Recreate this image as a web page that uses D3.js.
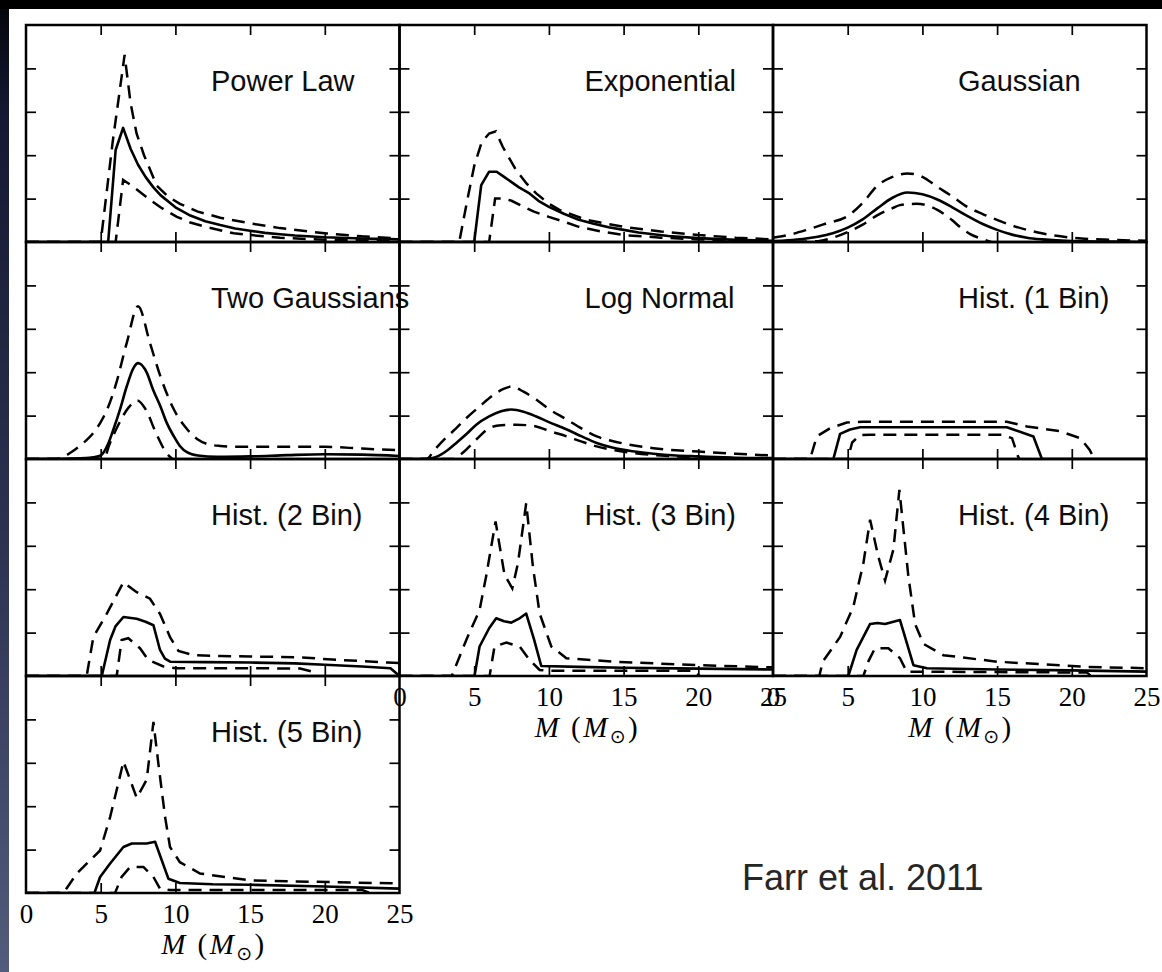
<!DOCTYPE html>
<html>
<head>
<meta charset="utf-8">
<script src="https://cdn.jsdelivr.net/npm/d3@7"></script>
<style>
  html, body { margin: 0; padding: 0; background: #000; }
  svg { display: block; }
</style>
</head>
<body>
<svg id="chart" width="1162" height="972"></svg>
<script>
// ---------------- DATA ----------------
const titles = ["Power Law", "Exponential", "Gaussian", "Two Gaussians", "Log Normal",
  "Hist. (1 Bin)", "Hist. (2 Bin)", "Hist. (3 Bin)", "Hist. (4 Bin)", "Hist. (5 Bin)"];
const xTicks = [5, 10, 15, 20];
const xTickLabels = [0, 5, 10, 15, 20, 25];
const yTicks = [1, 2, 3, 4];
const xDomain = [0, 25];
const yDomain = [0, 5];
const axisLabel = "M";
const annotation = "Farr et al. 2011";

// [mass, density] pairs — median (solid), lower / upper bounds (dashed)
const powerLawMed = [[0,0],[5.5,0],[6.0,2.12],[6.5,2.63],[7,2.15],[7.5,1.78],[8,1.5],[8.5,1.27],[9,1.08],[10,0.8],[11,0.61],[12,0.48],[13,0.39],[14,0.31],[15,0.26],[16,0.21],[17,0.18],[18,0.15],[20,0.11],[22.5,0.08],[25,0.06]];
const powerLawLo  = [[0,0],[6.0,0],[6.5,1.43],[7.2,1.27],[8.3,0.97],[9,0.8],[10.1,0.58],[11,0.45],[12,0.35],[13.9,0.2],[15,0.16],[17,0.1],[20,0.05],[25,0.02]];
const powerLawHi  = [[0,0],[5.0,0],[5.8,2.3],[6.6,4.31],[7.0,3.2],[7.4,2.5],[7.9,2.0],[8.75,1.3],[9.5,1.05],[10.3,0.88],[11.5,0.7],[13,0.56],[15,0.43],[17,0.32],[20,0.2],[22.5,0.13],[25,0.08]];

const expMed = [[0,0],[5.0,0],[5.47,1.31],[6.0,1.62],[6.5,1.62],[7,1.5],[7.5,1.38],[8,1.26],[8.7,1.12],[9.3,0.95],[10,0.81],[11,0.65],[12,0.51],[13,0.42],[14,0.34],[15,0.28],[16,0.22],[17,0.18],[18,0.14],[20,0.09],[22.5,0.05],[25,0.03]];
const expLo  = [[0,0],[6.0,0],[6.4,1.0],[7.0,1.0],[7.5,0.95],[8.3,0.81],[9,0.7],[10,0.58],[11,0.47],[12,0.35],[13.5,0.24],[15,0.16],[17.5,0.1],[20,0.06],[25,0.02]];
const expHi  = [[0,0],[4.0,0],[4.5,0.9],[5.0,1.75],[5.5,2.3],[6.0,2.5],[6.45,2.55],[6.9,2.2],[7.8,1.66],[8.5,1.35],[9.15,1.12],[10,0.88],[10.7,0.74],[12.5,0.51],[15,0.35],[17.5,0.24],[20,0.16],[22.5,0.1],[25,0.06]];

const gaussMed = [[0,0.02],[1,0.04],[2,0.07],[3,0.12],[4,0.2],[5,0.33],[6,0.52],[7,0.78],[8,1.02],[9,1.14],[10,1.1],[11,0.98],[12,0.8],[13,0.6],[14,0.42],[15,0.28],[16,0.17],[17,0.1],[18,0.06],[20,0.02],[22.5,0.01],[25,0]];
const gaussLo  = [[0,0],[3,0.02],[4,0.1],[5,0.23],[6,0.4],[7,0.62],[8,0.78],[8.5,0.85],[9.6,0.88],[10.5,0.82],[11,0.74],[12,0.5],[12.5,0.35],[13.2,0.18],[13.9,0.08],[14.6,0]];
const gaussHi  = [[0,0.1],[1,0.16],[2.26,0.28],[3.5,0.42],[5,0.6],[6,0.9],[7,1.3],[8,1.5],[9,1.58],[10,1.5],[11,1.27],[12,1.05],[13,0.81],[14,0.65],[15,0.51],[16,0.38],[17,0.28],[18,0.2],[20,0.1],[22.5,0.05],[25,0.03]];

const twoGaussMed = [[0,0],[3,0.01],[4,0.02],[4.5,0.04],[5,0.08],[5.5,0.35],[5.85,0.68],[6.3,1.15],[6.74,1.67],[7.2,2.1],[7.5,2.21],[8.1,1.98],[8.5,1.6],[9,1.21],[9.4,0.85],[9.9,0.52],[10.3,0.3],[10.8,0.15],[11.5,0.08],[12.8,0.05],[15,0.06],[17.5,0.09],[20,0.11],[22.5,0.1],[25,0.07]];
const twoGaussLo  = [[0,0],[5.2,0],[5.6,0.35],[6.2,0.8],[6.9,1.2],[7.45,1.35],[8.0,1.15],[8.7,0.6],[9.4,0.14],[9.8,0]];
const twoGaussHi  = [[0,0],[2.06,0],[3,0.15],[3.84,0.37],[4.5,0.6],[5,0.85],[5.5,1.2],[6,1.7],[6.74,2.67],[7.5,3.52],[8.3,2.67],[9,1.9],[9.9,1.14],[10.8,0.68],[11.5,0.45],[12.1,0.35],[13,0.3],[14.2,0.28],[17,0.28],[20,0.28],[22.5,0.24],[25,0.2]];

const logNormMed = [[0,0],[1.5,0],[2.2,0.02],[3,0.15],[3.8,0.37],[4.5,0.58],[5.14,0.79],[6,0.98],[6.8,1.1],[7.5,1.14],[8.3,1.09],[9.15,0.98],[10,0.85],[11.2,0.68],[12.2,0.52],[13.2,0.37],[14.3,0.26],[15.6,0.18],[17,0.12],[18.5,0.08],[20,0.06],[22.5,0.03],[25,0.02]];
const logNormLo  = [[0,0],[3.6,0],[4.35,0.18],[5.14,0.45],[6.0,0.71],[6.8,0.78],[7.8,0.79],[8.5,0.78],[9.15,0.75],[10,0.65],[11.2,0.52],[12.2,0.4],[13.2,0.29],[14.4,0.2],[15.6,0.14],[17.5,0.08],[20,0.04],[25,0.01]];
const logNormHi  = [[0,0],[1.8,0],[2.34,0.21],[3,0.45],[3.8,0.71],[4.5,0.95],[5.36,1.21],[6.3,1.48],[7.0,1.62],[7.5,1.67],[8.3,1.55],[9.15,1.37],[10,1.15],[11.2,0.91],[12.2,0.7],[13.2,0.52],[14.3,0.41],[15.4,0.33],[17,0.25],[18.5,0.2],[20,0.17],[22.5,0.12],[25,0.08]];

const hist1Med = [[0,0],[4.04,0],[4.49,0.58],[5.16,0.68],[5.83,0.73],[15.65,0.73],[17.43,0.52],[18.0,0],[25,0]];
const hist1Lo  = [[0,0],[5.0,0],[5.3,0.38],[5.8,0.55],[6.5,0.56],[15.3,0.56],[16.0,0.48],[16.4,0.06],[16.5,0]];
const hist1Hi  = [[0,0],[2.48,0],[2.93,0.52],[3.82,0.71],[4.94,0.84],[6,0.86],[15.65,0.86],[17,0.75],[19.2,0.64],[20.56,0.48],[21.2,0.21],[21.5,0]];

const hist2Med = [[0,0],[5.07,0],[5.63,0.83],[6.0,1.15],[6.52,1.36],[7.41,1.32],[8.0,1.25],[8.53,1.17],[8.97,0.6],[9.3,0.4],[9.65,0.33],[12,0.32],[15,0.31],[18,0.29],[20,0.26],[22.5,0.22],[24.4,0.18],[25,0]];
const hist2Lo  = [[0,0],[6.07,0],[6.4,0.83],[6.85,0.87],[7.63,0.64],[8.19,0.37],[9.2,0.22],[10,0.18],[15,0.18],[18.35,0.17],[19.2,0.1],[19.4,0]];
const hist2Hi  = [[0,0],[4.06,0],[4.51,0.9],[5.4,1.43],[6.52,2.16],[7.41,1.93],[8.3,1.78],[8.97,1.43],[9.65,0.89],[10.2,0.58],[11.2,0.48],[13,0.46],[15,0.45],[18.35,0.43],[20.5,0.38],[24.2,0.31],[25,0.3]];

const hist3Med = [[0,0],[5.02,0],[5.36,0.68],[6.0,1.1],[6.47,1.33],[7.0,1.26],[7.48,1.23],[8.0,1.32],[8.48,1.44],[9.0,0.85],[9.49,0.23],[12,0.21],[15,0.19],[20,0.17],[25,0.15]];
const hist3Lo  = [[0,0],[6.03,0],[6.36,0.68],[7.15,0.77],[8.04,0.68],[8.7,0.37],[9.38,0.14],[10,0.12],[15,0.12],[19.7,0.12],[20.1,0]];
const hist3Hi  = [[0,0],[3.5,0],[4.47,0.83],[5.36,1.52],[5.8,2.3],[6.43,3.56],[7.03,2.33],[7.55,2.02],[7.93,2.6],[8.48,3.98],[8.93,2.52],[9.38,1.44],[10.16,0.68],[11.17,0.41],[14.3,0.33],[19.9,0.25],[25,0.2]];

const hist4Med = [[0,0],[5.04,0],[5.6,0.6],[6.5,1.2],[7.0,1.22],[7.5,1.2],[8.5,1.29],[9.4,0.25],[10.3,0.18],[15,0.15],[20,0.13],[25,0.1]];
const hist4Lo  = [[0,0],[6.05,0],[6.4,0.35],[6.83,0.64],[7.72,0.64],[8.5,0.41],[8.95,0.1],[10,0.1],[15,0.09],[21,0.08],[21.3,0]];
const hist4Hi  = [[0,0],[3.1,0],[3.33,0.33],[4.49,0.9],[5.38,1.6],[6.05,2.6],[6.5,3.6],[7.05,2.75],[7.5,2.2],[8.06,2.92],[8.46,4.29],[8.73,3.39],[9.06,2.3],[9.51,1.2],[10.07,0.74],[11.4,0.48],[15,0.33],[21,0.21],[25,0.18]];

const hist5Med = [[0,0],[4.58,0],[4.96,0.37],[5.63,0.68],[6.52,1.06],[7.08,1.14],[8.08,1.14],[8.64,1.18],[9.53,0.33],[10.3,0.23],[12.5,0.2],[15,0.19],[20,0.15],[25,0.1]];
const hist5Lo  = [[0,0],[5.96,0],[6.4,0.37],[6.97,0.6],[7.86,0.6],[8.53,0.37],[8.97,0.1],[9.64,0.07],[15,0.07],[22.5,0.07],[23,0]];
const hist5Hi  = [[0,0],[2.5,0],[3.4,0.45],[4.96,0.98],[5.63,1.75],[6.18,2.53],[6.52,3.03],[6.97,2.61],[7.41,2.19],[8.08,2.61],[8.53,3.94],[8.86,2.98],[9.31,1.75],[9.64,1.06],[10.3,0.71],[11.65,0.45],[15,0.29],[20.5,0.25],[25,0.22]];

const medians = [powerLawMed, expMed, gaussMed, twoGaussMed, logNormMed, hist1Med, hist2Med, hist3Med, hist4Med, hist5Med];
const lowers  = [powerLawLo, expLo, gaussLo, twoGaussLo, logNormLo, hist1Lo, hist2Lo, hist3Lo, hist4Lo, hist5Lo];
const uppers  = [powerLawHi, expHi, gaussHi, twoGaussHi, logNormHi, hist1Hi, hist2Hi, hist3Hi, hist4Hi, hist5Hi];

// ---------------- LAYOUT ----------------
const W = 1162, H = 972;
const gridLeft = 26, gridTop = 25, panelW = 373.5, panelH = 217;
const labelled = new Set([7, 8, 9]);
const smooth = new Set([2, 3, 4]);

const svg = d3.select("#chart");

// background: black frame with a bluish left strip, white slide
const defs = svg.append("defs");
const grad = defs.append("linearGradient").attr("id", "strip")
  .attr("x1", 0).attr("y1", 0).attr("x2", 0).attr("y2", 1);
grad.append("stop").attr("offset", "0%").attr("stop-color", "#05060c");
grad.append("stop").attr("offset", "10%").attr("stop-color", "#141830");
grad.append("stop").attr("offset", "55%").attr("stop-color", "#2c3250");
grad.append("stop").attr("offset", "100%").attr("stop-color", "#535c7c");
svg.append("rect").attr("x", 0).attr("y", 0).attr("width", W).attr("height", H).attr("fill", "#000");
svg.append("rect").attr("x", 0).attr("y", 9).attr("width", 9).attr("height", H - 9).attr("fill", "url(#strip)");
svg.append("rect").attr("x", 9).attr("y", 9).attr("width", W - 9).attr("height", H - 9).attr("fill", "#fff");

titles.forEach((title, i) => {
  const r = Math.floor(i / 3), c = i % 3;
  const x0 = gridLeft + c * panelW, y0 = gridTop + r * panelH;
  const x = d3.scaleLinear().domain(xDomain).range([x0, x0 + panelW]);
  const y = d3.scaleLinear().domain(yDomain).range([y0 + panelH, y0]);
  const g = svg.append("g");

  const clipId = "clip" + i;
  defs.append("clipPath").attr("id", clipId)
    .append("rect").attr("x", x0).attr("y", y0 - 2).attr("width", panelW).attr("height", panelH + 2);

  const line = d3.line().x(d => x(d[0])).y(d => y(d[1]))
    .curve(smooth.has(i) ? d3.curveMonotoneX : d3.curveLinear);

  const curves = g.append("g").attr("clip-path", `url(#${clipId})`);
  [lowers[i], uppers[i]].forEach(arr => {
    curves.append("path").attr("d", line(arr)).attr("fill", "none")
      .attr("stroke", "#000").attr("stroke-width", 2.5)
      .attr("stroke-dasharray", "13,8");
  });
  curves.append("path").attr("d", line(medians[i])).attr("fill", "none")
    .attr("stroke", "#000").attr("stroke-width", 2.6).attr("stroke-linejoin", "round");

  // inward ticks on all four sides
  const tickStyle = sel => {
    sel.select(".domain").remove();
    sel.selectAll(".tick line").attr("stroke", "#000").attr("stroke-width", 1.7);
    sel.selectAll(".tick text").remove();
  };
  g.append("g").attr("transform", `translate(0,${y0 + panelH})`)
    .call(d3.axisBottom(x).tickValues(xTicks).tickSize(-10).tickSizeOuter(0)).call(tickStyle);
  g.append("g").attr("transform", `translate(0,${y0})`)
    .call(d3.axisTop(x).tickValues(xTicks).tickSize(-10).tickSizeOuter(0)).call(tickStyle);
  g.append("g").attr("transform", `translate(${x0},0)`)
    .call(d3.axisLeft(y).tickValues(yTicks).tickSize(-10).tickSizeOuter(0)).call(tickStyle);
  g.append("g").attr("transform", `translate(${x0 + panelW},0)`)
    .call(d3.axisRight(y).tickValues(yTicks).tickSize(-10).tickSizeOuter(0)).call(tickStyle);

  // frame
  g.append("rect").attr("x", x0).attr("y", y0).attr("width", panelW).attr("height", panelH)
    .attr("fill", "none").attr("stroke", "#000").attr("stroke-width", 2.5);

  // title
  g.append("text").attr("x", x0 + 185).attr("y", y0 + 66)
    .attr("font-family", "'Liberation Sans', Arial, Helvetica, sans-serif")
    .attr("font-size", 29).attr("fill", "#0d0d0d").text(title);

  if (labelled.has(i)) {
    const ax = g.append("g").attr("transform", `translate(0,${y0 + panelH})`)
      .call(d3.axisBottom(x).tickValues(xTickLabels).tickSize(0).tickPadding(0).tickFormat(d3.format("d")));
    ax.select(".domain").remove();
    ax.selectAll(".tick text").attr("y", 30).attr("dy", null)
      .attr("font-family", "'Liberation Serif', 'Times New Roman', serif")
      .attr("font-size", 27).attr("fill", "#000");
    const lab = g.append("text").attr("x", x0 + panelW / 2).attr("y", y0 + panelH + 61)
      .attr("text-anchor", "middle")
      .attr("textLength", 103).attr("lengthAdjust", "spacing")
      .attr("font-family", "'Liberation Serif', 'Times New Roman', serif")
      .attr("font-size", 29).attr("fill", "#000");
    lab.append("tspan").attr("font-style", "italic").text(axisLabel);
    lab.append("tspan").text(" (");
    lab.append("tspan").attr("font-style", "italic").text(axisLabel);
    lab.append("tspan").attr("font-size", 19).attr("dy", 6)
      .attr("font-family", "'DejaVu Sans', sans-serif").text("\u2299");
    lab.append("tspan").attr("dy", -6).text(")");
  }
});

svg.append("text").attr("x", 742).attr("y", 890)
  .attr("font-family", "'Liberation Sans', Arial, Helvetica, sans-serif")
  .attr("font-size", 36).attr("fill", "#262626").text(annotation);
</script>
</body>
</html>
